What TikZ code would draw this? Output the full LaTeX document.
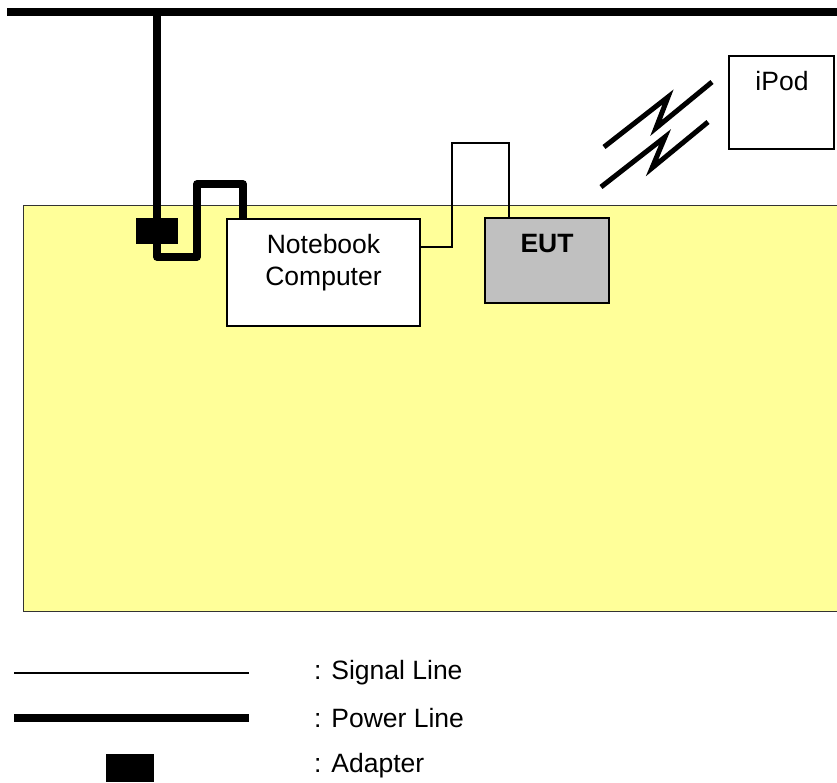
\documentclass[tikz,border=0pt]{standalone}
\usepackage{fontspec}
\setmainfont{Liberation Sans}
\begin{document}
\begin{tikzpicture}[x=1pt,y=-1pt,
  txt/.style={font=\fontsize{26.5}{32}\selectfont, inner sep=0pt},
  power/.style={line width=7.5pt, line join=round},
  signal/.style={line width=1.5pt},
  wave/.style={line width=5pt, line join=miter},
  box/.style={draw=black, line width=1.5pt, fill=white, inner sep=0pt},
  adapter/.style={fill=black, draw=none}]
\useasboundingbox (0,0) rectangle (837,782);
\definecolor{tableyellow}{HTML}{FFFF99}
\definecolor{eutgray}{HTML}{C0C0C0}
% table
\filldraw[fill=tableyellow, draw=black!80, line width=1pt] (23,205) rectangle (850,611);
% boxes
\node[box, minimum width=193pt, minimum height=107pt] (nb) at (323.5,272.5) {};
\node[txt, align=center, anchor=north] (nbt) at (323.5,234) {Notebook\\Computer};
\node[box, fill=eutgray, minimum width=124pt, minimum height=85pt] (eut) at (547,260.5) {};
\node[txt, anchor=north, font=\fontsize{26.5}{32}\selectfont\bfseries] (eutt) at (547,234) {EUT};
\node[box, minimum width=105pt, minimum height=93pt] (ipod) at (781.5,102.5) {};
\node[txt, anchor=north] (ipodt) at (782,71) {iPod};
% power lines
\coordinate (mainL) at (7,12);
\coordinate (mainR) at (850,12);
\coordinate (tap) at (157,12);
\draw[power, line width=8pt] (mainL) -- (mainR);
\draw[power] (tap) -- (157,257) -- (197,257) -- (197,184) -- (243,184) -- (243,0 |- nb.north);
\node[adapter, minimum width=42pt, minimum height=26pt, inner sep=0pt] (ad) at (157,231) {};
% signal line
\draw[signal] (nb.east |- 0,247) -- (452,247) -- (452,143) -- (509,143) -- (509,0 |- eut.north);
% wireless
\draw[wave] (604,147) -- (668,97) -- (656,128) -- (712,82);
\draw[wave] (601,187) -- (665,137) -- (652,168) -- (708,122);
% legend
\coordinate (s1) at (14,673); \coordinate (s2) at (249,673);
\coordinate (p1) at (14,718); \coordinate (p2) at (249,718);
\draw[signal] (s1) -- (s2);
\draw[power, line width=8pt, line join=miter] (p1) -- (p2);
\node[adapter, minimum width=48pt, minimum height=28pt, inner sep=0pt] (lad) at (130,768) {};
\node[txt, anchor=west] (l1) at (314,673) {: Signal Line};
\node[txt, anchor=west] (l2) at (314,718) {: Power Line};
\node[txt, anchor=west] (l3) at (314,766) {: Adapter};
\end{tikzpicture}
\end{document}
